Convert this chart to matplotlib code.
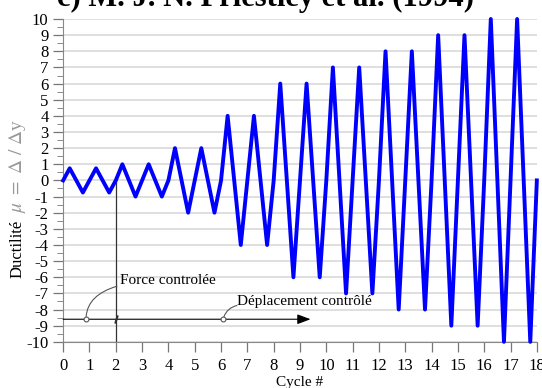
import numpy as np
import matplotlib.pyplot as plt

plt.rcParams['font.family'] = ['Liberation Serif', 'DejaVu Serif']
plt.rcParams['mathtext.fontset'] = 'stix'
plt.rcParams['axes.unicode_minus'] = False

# amplitude of each cycle (ductility)
amplitudes = [0.75, 0.75, 1, 1, 2, 2, 4, 4, 6, 6, 7, 7, 8, 8, 9, 9, 10, 10]

# build the cyclic history: 0 -> +a -> -a -> 0 per cycle
cycle_x = []
cycle_y = []
for i, a in enumerate(amplitudes):
    cycle_x += [i, i + 0.25, i + 0.75]
    cycle_y += [0, a, -a]
cycle_x.append(len(amplitudes))
cycle_y.append(0)

yticks = list(range(-10, 11))
xticks = list(range(0, 19))

fig = plt.figure(figsize=(5.42, 3.88), dpi=100)
ax = fig.add_axes([0.1165, 0.119, 0.874, 0.832])

for yv in yticks:
    ax.axhline(yv, color='#dcdcdc', lw=1.3, zorder=0)

ax.plot(cycle_x, cycle_y, color='#0000ff', lw=2.8, zorder=3, clip_on=False)

# annotations
ax.plot([2, 2], [-10, 0], color='#333333', lw=0.9, zorder=2)
ax.annotate('', xy=(9.4, -8.6), xytext=(0, -8.6),
            arrowprops=dict(arrowstyle='-|>,head_length=0.8,head_width=0.3',
                            color='black', lw=0.8, shrinkA=0, shrinkB=0))
ax.plot([0.87, 6.08], [-8.6, -8.6], 'o', ms=3.5, mfc='white', mec='#555555',
        mew=0.8, zorder=4)
ax.plot([2], [-8.6], marker=r'$/$', ms=5, color='#333333', zorder=4)

ax.annotate('Force controlée', xy=(0.87, -8.6), xytext=(2.15, -6.2),
            fontsize=11, va='center', ha='left',
            arrowprops=dict(arrowstyle='-', color='#555555', lw=0.8,
                            shrinkA=0, shrinkB=2,
                            connectionstyle='angle3,angleA=0,angleB=90'))
ax.text(6.6, -7.5, 'Déplacement contrôlé', fontsize=11, va='center', ha='left')
ax.annotate('', xy=(6.08, -8.6), xytext=(6.6, -7.75),
            arrowprops=dict(arrowstyle='-', color='#555555', lw=0.8,
                            shrinkA=0, shrinkB=2,
                            connectionstyle='arc3,rad=0.3'))

ax.set_xlim(0, 18)
ax.set_ylim(-10, 10)
ax.set_xticks(xticks)
ax.set_yticks(yticks)
ax.set_yticks(np.arange(-9.5, 10, 1), minor=True)
ax.tick_params(axis='both', labelsize=12, color='#777777', length=7, width=0.9)
ax.tick_params(axis='x', pad=5)
ax.tick_params(axis='y', which='minor', length=4, color='#777777')
for s in ['top', 'right']:
    ax.spines[s].set_visible(False)
for s in ['left', 'bottom']:
    ax.spines[s].set_color('#888888')

ax.set_xlabel('Cycle #', fontsize=11, labelpad=1)

# y label: plain word in black, ratio in grey
fig.text(0.033, 1 - 249 / 388, 'Ductilité', rotation=90, fontsize=12,
         ha='center', va='center')
fig.text(0.033, 1 - 166 / 388, r'$\mu\ =\ \Delta\ /\ \Delta$y', rotation=90,
         fontsize=14, color='#999999', ha='center', va='center')

fig.text(0.489, 1 - 6 / 388, 'c) M. J. N. Priestley et al. (1994)',
         fontsize=22, fontweight='bold', ha='center', va='baseline')

fig.savefig('out.png', dpi=100)
